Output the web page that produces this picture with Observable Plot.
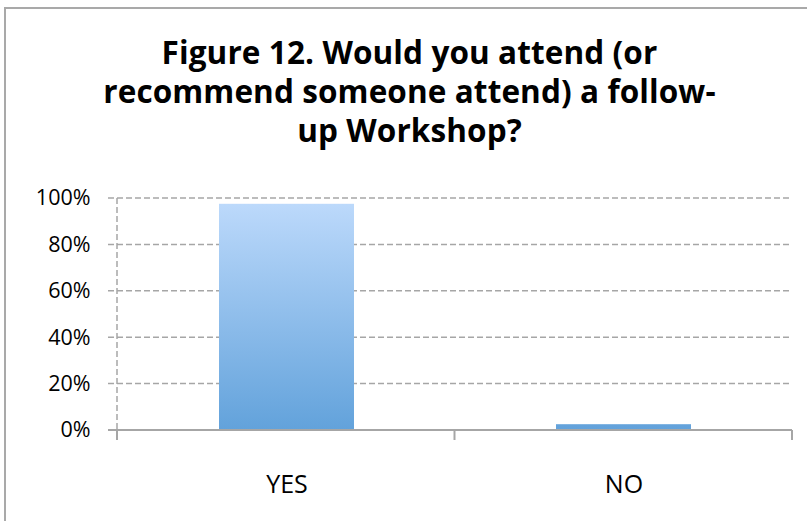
<!DOCTYPE html>
<html>
<head>
<meta charset="utf-8">
<script src="https://cdn.jsdelivr.net/npm/d3@7"></script>
<script src="https://cdn.jsdelivr.net/npm/@observablehq/plot@0.6"></script>
<style>
  html, body { margin: 0; padding: 0; background: #fff; }
  #wrap { position: relative; width: 807px; height: 521px; overflow: hidden; background: #fff; }
  #frame { position: absolute; left: 4px; top: 7px; width: 820px; height: 540px; border: 2px solid #a9a9a9; box-sizing: border-box; }
  #title { position: absolute; left: 6px; top: 32px; width: 807px; text-align: center;
           font-family: "Open Sans", Lato, sans-serif; font-weight: bold; font-size: 31.5px;
           line-height: 39px; color: #000; letter-spacing: 0.1px; }
  #chart { position: absolute; left: 0; top: 170px; }
</style>
</head>
<body>
<div id="wrap">
  <div id="frame"></div>
  <div id="title">Figure 12. Would you attend (or<br>recommend someone attend) a follow-<br>up Workshop?</div>
  <div id="chart"></div>
</div>
<svg width="0" height="0" style="position:absolute">
  <defs>
    <linearGradient id="barGrad" gradientUnits="userSpaceOnUse" x1="0" y1="34" x2="0" y2="260">
      <stop offset="0" stop-color="#bcd9fb"/>
      <stop offset="1" stop-color="#62a2db"/>
    </linearGradient>
  </defs>
</svg>
<script>
const categories = ["YES", "NO"];
const values = [0.975, 0.025];
const yTicks = [0, 0.2, 0.4, 0.6, 0.8, 1.0];

const data = categories.map((c, i) => ({category: c, value: values[i]}));

const W = 807, H = 351;
const mL = 117, mR = 15, mT = 28, mB = 91;

const plot = Plot.plot({
  width: W,
  height: H,
  marginLeft: mL,
  marginRight: mR,
  marginTop: mT,
  marginBottom: mB,
  style: { fontFamily: "'Open Sans', Lato, sans-serif", background: "transparent", overflow: "visible" },
  x: { domain: categories, paddingInner: 0.6, paddingOuter: 0.3, align: 0.5 },
  y: { domain: [0, 1] },
  marks: [
    Plot.axisY({ ticks: yTicks, tickFormat: d => Math.round(d * 100) + "%", tickSize: 0, tickPadding: 27,
                 fill: "#000", label: null }),
    Plot.axisX({ tickSize: 0, tickPadding: 45, fill: "#000", label: null }),
    Plot.barY(data, { x: "category", y: "value", fill: "url(#barGrad)" })
  ]
});

const xs = plot.scale("x"), ys = plot.scale("y");
const svg = d3.select(plot);
svg.selectAll("g[aria-label='y-axis tick label']").attr("font-size", 21.5);
svg.selectAll("g[aria-label='x-axis tick label']").attr("font-size", 25);
const xLeft = mL, xRight = W - mR;
const y0 = ys.apply(0), yTop = ys.apply(1);
const grid = svg.insert("g", ":first-child");
yTicks.filter(d => d > 0).forEach(t => {
  grid.append("line").attr("x1", xLeft - 9).attr("x2", xRight).attr("y1", ys.apply(t)).attr("y2", ys.apply(t))
    .attr("stroke", "#a6a6a6").attr("stroke-width", 1.5).attr("stroke-dasharray", "6,3");
});
grid.append("line").attr("x1", xLeft).attr("x2", xLeft).attr("y1", yTop).attr("y2", y0 + 10)
  .attr("stroke", "#a6a6a6").attr("stroke-width", 1.5).attr("stroke-dasharray", "6,3");
const axisG = svg.append("g");
axisG.append("line").attr("x1", xLeft - 9).attr("x2", xRight).attr("y1", y0).attr("y2", y0)
  .attr("stroke", "#a6a6a6").attr("stroke-width", 2);
[xLeft, (xLeft + xRight) / 2, xRight].forEach(x => {
  axisG.append("line").attr("x1", x).attr("x2", x).attr("y1", y0).attr("y2", y0 + 10)
    .attr("stroke", "#a6a6a6").attr("stroke-width", 2);
});

document.getElementById("chart").appendChild(plot);
</script>
</body>
</html>
